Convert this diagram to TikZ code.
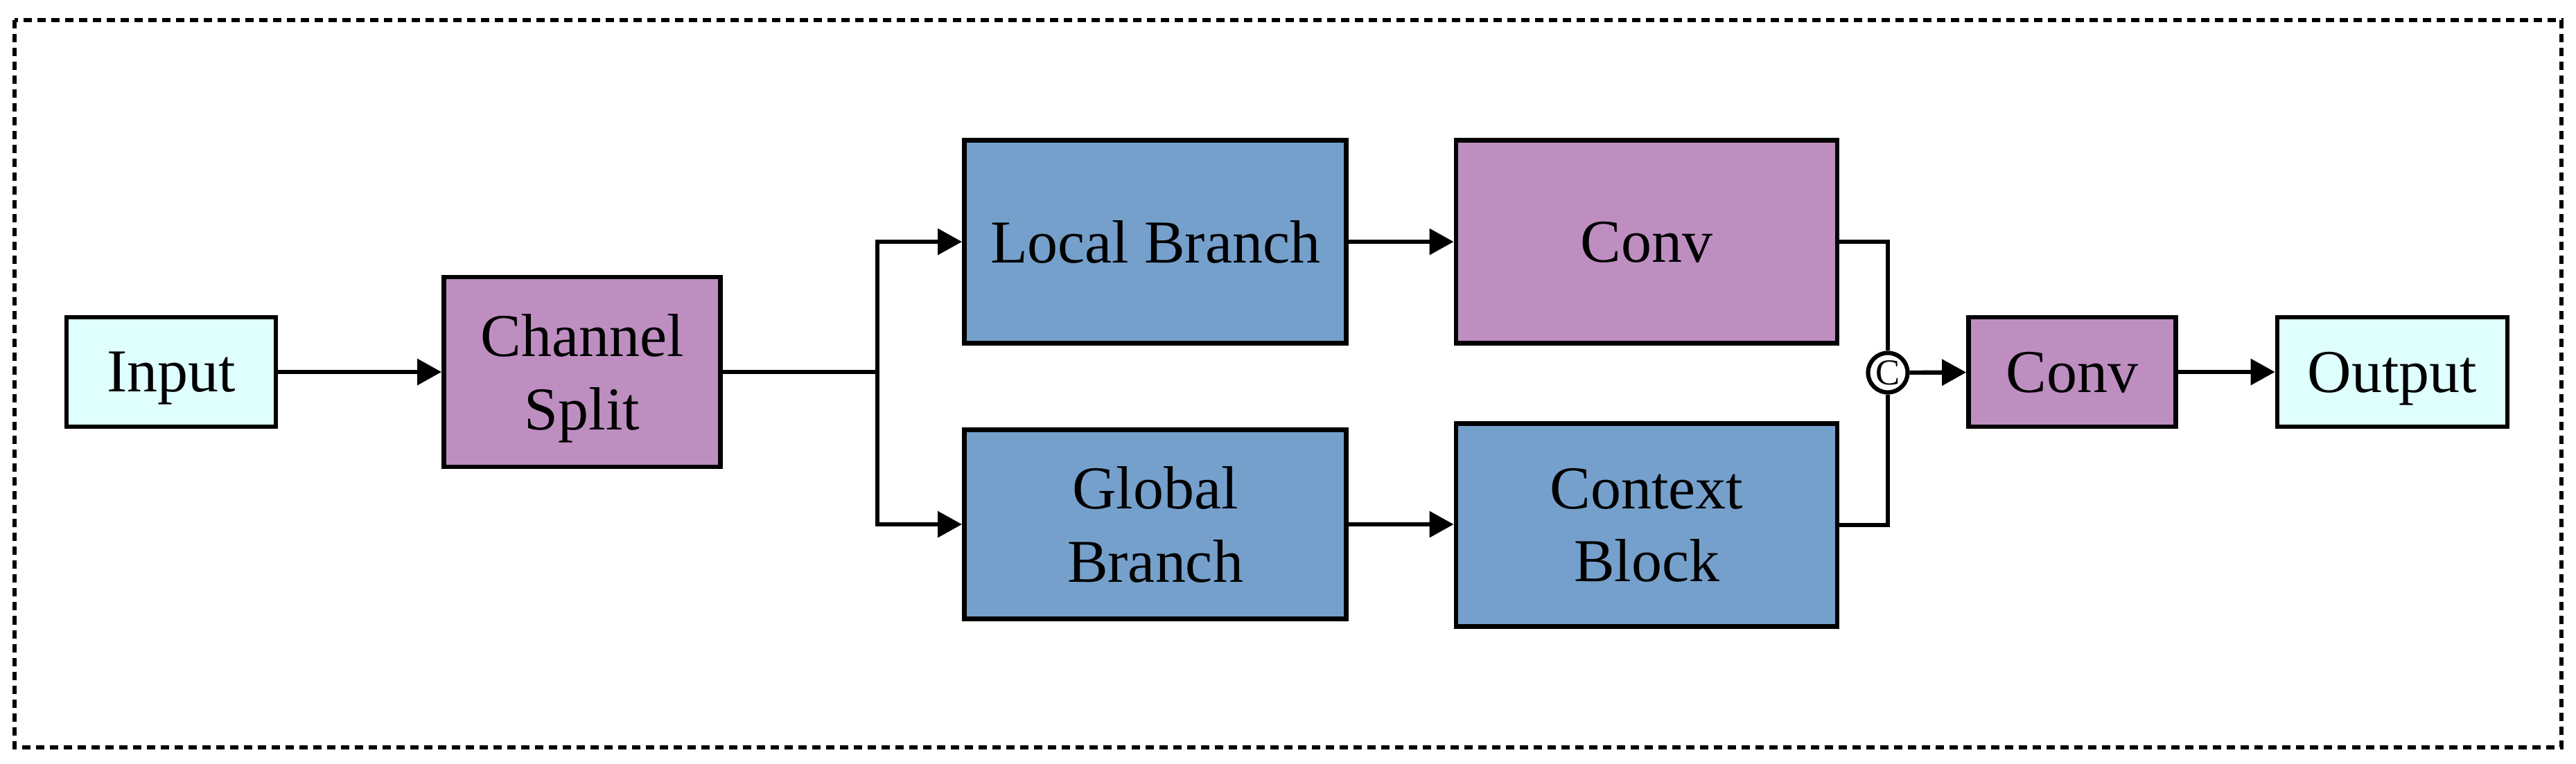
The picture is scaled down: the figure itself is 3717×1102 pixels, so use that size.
\documentclass[tikz,border=0pt]{standalone}
\usepackage{fontspec}
\setmainfont{Liberation Serif}
\usetikzlibrary{arrows.meta}
\definecolor{cyanfill}{HTML}{DFFFFF}
\definecolor{purp}{HTML}{BE8EC1}
\definecolor{blu}{HTML}{75A0CC}
\begin{document}
\begin{tikzpicture}[x=0.01cm,y=-0.01cm,
  box/.style={draw=black,line width=1.85pt,inner sep=0pt,align=center,text depth=0pt,font=\fontsize{25}{30}\selectfont},
  conn/.style={line width=1.75pt},
  arr/.style={conn,-{Triangle[length=0.35cm,width=0.37cm]}}]
\useasboundingbox (0,0) rectangle (3717,1102);
\draw[line width=1.8pt,dash pattern=on 0.12cm off 0.08cm] (21,29) rectangle (3696,1079);

\node[box,fill=cyanfill,minimum width=3.02cm,minimum height=1.58cm] (in) at (247,537) {Input};
\node[box,fill=purp,minimum width=3.99cm,minimum height=2.74cm] (split) at (840,537) {Channel\\Split};
\node[box,fill=blu,minimum width=5.51cm,minimum height=2.93cm] (local) at (1667,349) {Local Branch};
\node[box,fill=blu,minimum width=5.51cm,minimum height=2.73cm] (global) at (1667,757) {Global\\Branch};
\node[box,fill=purp,minimum width=5.50cm,minimum height=2.93cm] (conv1) at (2376,349) {Conv};
\node[box,fill=blu,minimum width=5.50cm,minimum height=2.93cm] (ctx) at (2376,758) {Context\\Block};
\node[circle,draw,line width=1.75pt,minimum size=0.57cm,inner sep=0pt,font=\fontsize{15}{15}\selectfont] (cat) at (2724,538) {C};
\node[box,fill=purp,minimum width=2.99cm,minimum height=1.58cm] (conv2) at (2990,537) {Conv};
\node[box,fill=cyanfill,minimum width=3.32cm,minimum height=1.58cm] (out) at (3452,537) {Output};

\coordinate (j) at (1266,537);
\draw[arr] (in) -- (split);
\draw[conn] (split.east) -- (j);
\draw[arr] (j) |- (local.west);
\draw[arr] (j) |- (global.west);
\draw[arr] (local) -- (conv1);
\draw[arr] (global.east) -- (global.east -| ctx.west);
\draw[conn] (conv1.east) -| (cat.north);
\draw[conn] (ctx.east) -| (cat.south);
\draw[arr] (cat) -- (conv2);
\draw[arr] (conv2) -- (out);
\end{tikzpicture}
\end{document}
